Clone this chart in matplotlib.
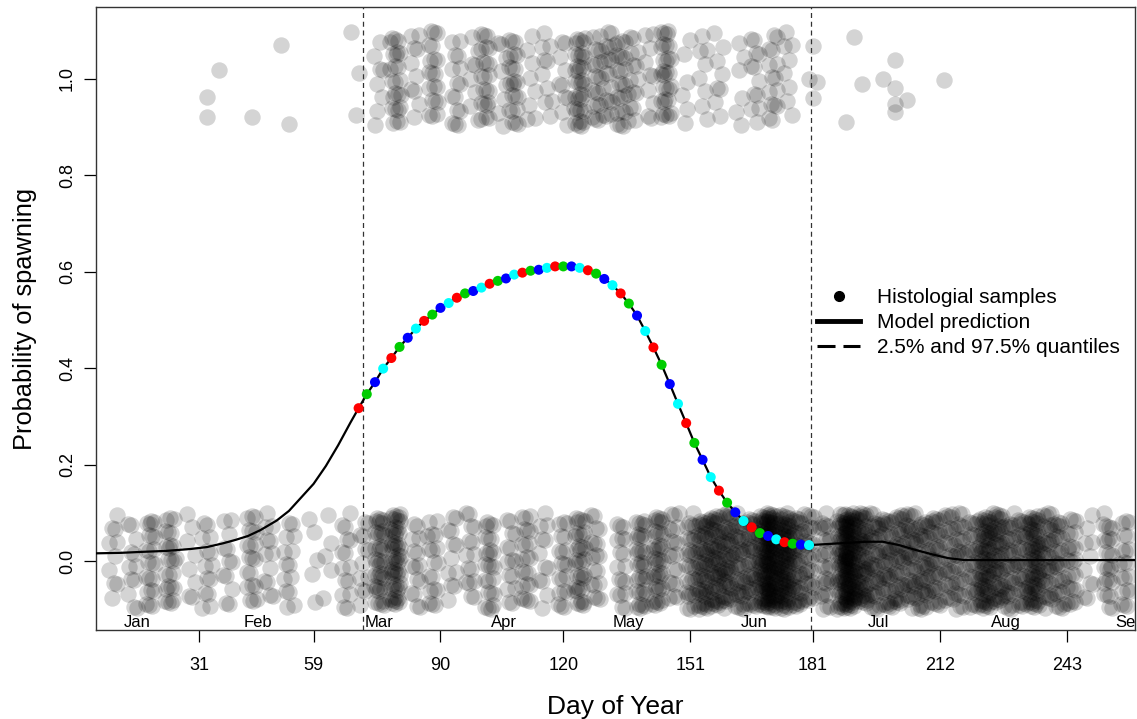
import numpy as np
import matplotlib
matplotlib.use("Agg")
import matplotlib.pyplot as plt
from matplotlib.lines import Line2D

plt.rcParams['font.family'] = ['Liberation Sans', 'DejaVu Sans']

# model prediction (day of year -> probability)
pre_day = [6, 12, 17, 23, 29, 33, 37, 40, 43, 46, 50, 53, 56, 59, 62, 65, 68]
pre_p = [0.016, 0.017, 0.019, 0.021, 0.025, 0.029, 0.037, 0.044, 0.052, 0.064,
         0.084, 0.104, 0.132, 0.160, 0.197, 0.240, 0.287]
# coloured points on the curve, every 2 days between the quantiles
dot_day = list(range(70, 181, 2))
dot_p = [0.317, 0.346, 0.371, 0.399, 0.421, 0.444, 0.463, 0.482, 0.498, 0.511,
         0.525, 0.535, 0.546, 0.555, 0.560, 0.567, 0.575, 0.581, 0.586, 0.594,
         0.598, 0.602, 0.604, 0.608, 0.611, 0.611, 0.611, 0.608, 0.603, 0.596,
         0.585, 0.572, 0.555, 0.534, 0.509, 0.477, 0.443, 0.407, 0.367, 0.326,
         0.286, 0.245, 0.210, 0.174, 0.146, 0.121, 0.101, 0.083, 0.070, 0.058,
         0.052, 0.045, 0.039, 0.036, 0.034, 0.033]
post_day = [182, 186, 190, 194, 198, 202, 206, 210, 214, 218, 230, 260]
post_p = [0.034, 0.036, 0.038, 0.040, 0.040, 0.033, 0.023, 0.014, 0.006, 0.002,
          0.002, 0.002]
dot_cols = ['#FF0000', '#00CD00', '#0000FF', '#00FFFF']

# quantiles of the spawning window
q_lo, q_hi = 71.0, 180.5

# histological samples: sampling day and number of fish (non-spawning = 0)
neg_day = [10, 15, 19, 24, 29, 33, 38, 44, 48, 53, 59, 62, 67, 71, 75, 79, 84, 88,
           93, 97, 102, 107, 111, 115, 120, 124, 128, 134, 139, 143, 147, 151,
           154, 157, 160, 163, 166, 169, 171, 174, 177, 180, 184, 188, 190, 193,
           196, 199, 202, 205, 208, 211, 214, 217, 220, 223, 226, 229, 232, 235,
           238, 241, 244, 248, 253, 257]
neg_n = [10, 12, 22, 25, 8, 14, 12, 20, 12, 14, 5, 5, 15, 12, 40, 55, 15, 18,
         12, 15, 25, 15, 22, 12, 20, 35, 18, 18, 35, 40, 20, 30,
         50, 55, 50, 40, 40, 70, 85, 85, 45, 30, 30, 60, 95, 60,
         40, 40, 40, 40, 40, 35, 30, 30, 30, 65, 50, 35, 35, 65,
         35, 30, 25, 10, 25, 20]
# spawning = 1
pos_day = [69, 75, 79, 84, 88, 94, 98, 101, 105, 108, 112, 116, 120, 124, 128,
           131, 134, 137, 141, 145, 150, 154, 158, 163, 167, 171, 175]
pos_n = [3, 8, 25, 10, 20, 15, 8, 22, 8, 22, 8, 10, 10, 35, 20, 18, 22, 15, 10,
         30, 6, 8, 8, 6, 12, 15, 8]
# isolated spawning fish away from the main window (day, jittered y)
extra_day = [33, 36, 33, 44, 51, 53, 181, 191, 201, 180, 182, 198, 193, 213,
             201, 181, 204, 201, 201, 189]
extra_y = [0.963, 1.019, 0.921, 0.921, 1.071, 0.907, 1.068, 1.087, 1.039, 1.000,
           0.994, 1.000, 0.990, 0.998, 0.981, 0.961, 0.956, 0.948, 0.932, 0.911]

month_day = [16, 45.5, 75, 105.5, 136, 166.5, 197, 228, 258.5]
month_lab = ['Jan', 'Feb', 'Mar', 'Apr', 'May', 'Jun', 'Jul', 'Aug', 'Sep']
xticks = [31, 59, 90, 120, 151, 181, 212, 243]


def strip(days, counts, centre, seed):
    # spread each sampling day's fish over the jitter band (deterministic R2 sequence)
    xs, ys = [], []
    for i, (d, n) in enumerate(zip(days, counts)):
        k = np.arange(1, n + 1)
        u = (k * 0.7548776662 + 0.37 * i + seed) % 1
        v = (k * 0.5698402910 + 0.61 * i + seed) % 1
        xs.append(d + (u - 0.5) * 2.6)
        ys.append(centre + (v - 0.5) * 0.2)
    return np.concatenate(xs), np.concatenate(ys)


fig = plt.figure(figsize=(11.37, 7.19), dpi=100)
ax = fig.add_axes([0.0844, 0.1238, 0.9138, 0.8665])

nx, ny = strip(neg_day, neg_n, 0.0, 0.13)
px, py = strip(pos_day, pos_n, 1.0, 0.42)
gray = dict(s=140, color='black', alpha=0.17, linewidths=0)
ax.scatter(nx, ny, **gray)
ax.scatter(px, py, **gray)
ax.scatter(extra_day, extra_y, **gray)

curve_day = pre_day + dot_day + post_day
curve_p = pre_p + dot_p + post_p
ax.plot(curve_day, curve_p, color='black', lw=1.6, zorder=3)
ax.scatter(dot_day, dot_p, s=52, zorder=4, linewidths=0,
           c=[dot_cols[i % 4] for i in range(len(dot_day))])

for q in (q_lo, q_hi):
    ax.axvline(q, color='#333333', lw=0.9, ls=(0, (4, 3)), zorder=2)

for d, m in zip(month_day, month_lab):
    ax.text(d, -0.127, m, ha='center', va='center', fontsize=12, clip_on=True)

ax.set_xlim(5.86, 259.6)
ax.set_ylim(-0.143, 1.149)
ax.set_xticks(xticks)
ax.set_xticklabels([str(t) for t in xticks])
ax.set_yticks([0, 0.2, 0.4, 0.6, 0.8, 1.0])
ax.set_yticklabels(['0.0', '0.2', '0.4', '0.6', '0.8', '1.0'], rotation=90,
                   va='center')
ax.tick_params(axis='both', length=8.5, width=0.9, labelsize=13)
ax.tick_params(axis='x', pad=11)
ax.tick_params(axis='y', pad=6)
for sp in ax.spines.values():
    sp.set_linewidth(1.0)
    sp.set_color('#333333')

ax.set_xlabel('Day of Year', fontsize=19, labelpad=15)
ax.set_ylabel('Probability of spawning', fontsize=18.3, labelpad=16)

handles = [Line2D([], [], ls='none', marker='o', color='black', ms=7),
           Line2D([], [], color='black', lw=3.5),
           Line2D([], [], color='black', lw=2.2, ls=(0, (5.9, 2.6)))]
labels = ['Histologial samples', 'Model prediction', '2.5% and 97.5% quantiles']
ax.legend(handles, labels, loc='upper left', bbox_to_anchor=(0.694, 0.549),
          frameon=False, fontsize=15, handlelength=2.07, handletextpad=0.82,
          labelspacing=0.3, borderaxespad=0, borderpad=0)

fig.savefig('out.png', dpi=100)
